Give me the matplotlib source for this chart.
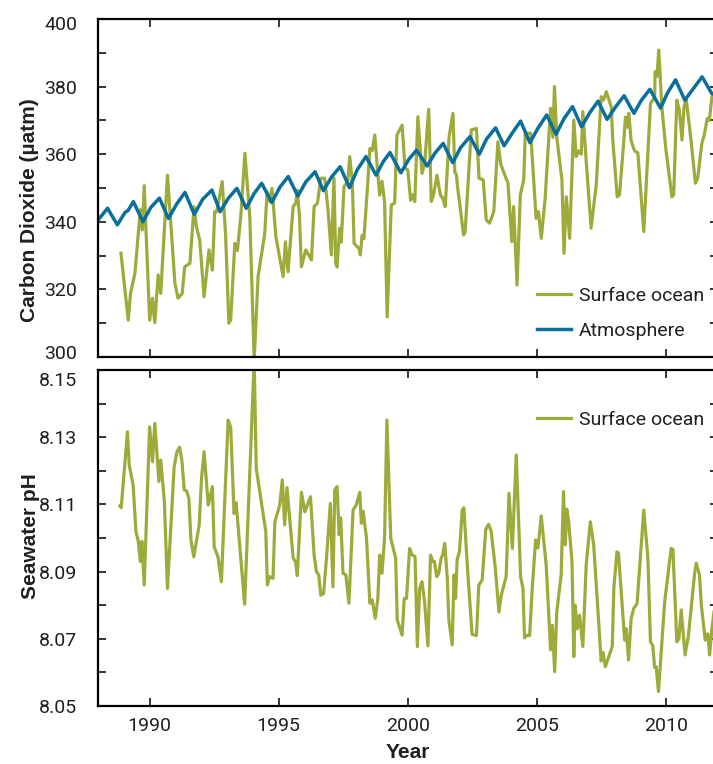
import matplotlib
matplotlib.use("Agg")
import matplotlib.pyplot as plt
import matplotlib.transforms as mtransforms
from matplotlib.ticker import MultipleLocator, FuncFormatter

# ---------------- data ----------------
ocean_co2_year = [1988.89, 1989.17, 1989.26, 1989.43, 1989.64, 1989.72, 1989.79, 1990.0, 1990.11, 1990.2,
                  1990.33, 1990.43, 1990.69, 1990.98, 1991.1, 1991.26, 1991.36, 1991.56, 1991.72, 1991.81,
                  1991.94, 1992.11, 1992.3, 1992.43, 1992.52, 1992.6, 1992.81, 1992.94, 1993.07, 1993.14,
                  1993.3, 1993.4, 1993.53, 1993.69, 1993.88, 1994.05, 1994.2, 1994.46, 1994.55, 1994.65,
                  1994.74, 1994.89, 1995.17, 1995.26, 1995.36, 1995.56, 1995.66, 1995.72, 1995.8, 1995.88,
                  1996.05, 1996.27, 1996.37, 1996.5, 1996.63, 1996.78, 1996.91, 1997.04, 1997.14, 1997.21,
                  1997.26, 1997.36, 1997.42, 1997.53, 1997.68, 1997.75, 1997.85, 1997.92, 1998.12, 1998.16,
                  1998.23, 1998.3, 1998.45, 1998.53, 1998.62, 1998.72, 1998.81, 1998.91, 1999.0, 1999.1,
                  1999.2, 1999.36, 1999.49, 1999.58, 1999.78, 1999.89, 2000.0, 2000.11, 2000.2, 2000.27,
                  2000.39, 2000.55, 2000.65, 2000.81, 2000.91, 2001.0, 2001.13, 2001.26, 2001.35, 2001.45,
                  2001.6, 2001.75, 2001.82, 2001.88, 2001.94, 2002.0, 2002.16, 2002.22, 2002.46, 2002.66,
                  2002.76, 2002.92, 2003.04, 2003.17, 2003.33, 2003.49, 2003.6, 2003.75, 2003.88, 2004.03,
                  2004.1, 2004.23, 2004.36, 2004.49, 2004.55, 2004.76, 2004.97, 2005.06, 2005.17, 2005.32,
                  2005.53, 2005.62, 2005.68, 2005.77, 2005.97, 2006.05, 2006.14, 2006.27, 2006.43, 2006.52,
                  2006.62, 2006.72, 2006.78, 2006.91, 2007.1, 2007.3, 2007.49, 2007.58, 2007.69, 2007.88,
                  2007.94, 2008.11, 2008.2, 2008.37, 2008.43, 2008.5, 2008.56, 2008.65, 2008.78, 2008.91,
                  2009.14, 2009.4, 2009.56, 2009.58, 2009.65, 2009.72, 2009.84, 2010.0, 2010.23, 2010.3,
                  2010.42, 2010.52, 2010.62, 2010.7, 2010.78, 2010.97, 2011.14, 2011.23, 2011.39, 2011.49,
                  2011.6, 2011.68, 2011.78, 2011.86]
ocean_co2 = [330.7, 310.9, 318.8, 324.8, 343.6, 337.6, 350.7, 310.9, 317.4, 310.2,
             324.3, 318.8, 353.8, 321.8, 317.4, 318.8, 326.7, 327.7, 344.5, 338.6,
             334.6, 317.8, 331.7, 325.7, 343.0, 343.0, 351.9, 336.6, 310.0, 311.0,
             333.6, 331.5, 341.5, 360.3, 341.5, 299.0, 323.8, 336.6, 348.9, 346.0,
             349.9, 335.6, 323.8, 334.1, 325.2, 344.5, 345.5, 349.4, 342.0, 326.7,
             331.7, 328.7, 344.5, 345.5, 352.9, 352.9, 343.5, 330.2, 352.9, 327.7,
             326.6, 338.1, 334.0, 350.4, 352.0, 359.3, 352.0, 333.6, 332.0, 330.2,
             336.0, 335.0, 351.5, 361.7, 361.0, 365.7, 357.0, 347.9, 352.0, 346.0,
             311.9, 345.0, 345.5, 365.7, 368.6, 356.0, 355.3, 346.4, 348.0, 346.0,
             371.1, 354.3, 357.0, 373.3, 346.0, 348.0, 353.8, 348.0, 347.0, 344.5,
             365.2, 372.1, 354.7, 354.0, 349.4, 346.0, 336.1, 337.0, 367.2, 367.6,
             352.9, 352.4, 340.5, 339.6, 343.0, 363.7, 357.0, 354.0, 351.4, 334.1,
             344.5, 321.3, 348.0, 352.4, 366.2, 366.2, 341.0, 343.0, 335.1, 347.0,
             373.6, 365.0, 380.0, 365.0, 352.4, 330.7, 347.4, 335.1, 370.1, 359.3,
             361.0, 360.0, 372.6, 358.0, 338.1, 351.0, 377.0, 376.0, 378.5, 374.0,
             364.2, 347.4, 348.0, 364.2, 371.0, 368.0, 372.1, 364.0, 361.0, 360.4,
             337.1, 375.0, 376.8, 384.4, 383.0, 390.8, 374.0, 361.2, 347.4, 348.0,
             376.0, 373.0, 364.2, 374.0, 376.5, 364.2, 351.4, 353.0, 363.2, 366.0,
             370.6, 370.0, 377.0, 378.0]

atmos_year = [1988.0, 1988.37, 1988.75, 1989.05, 1989.17, 1989.37, 1989.74, 1990.05, 1990.38, 1990.73,
              1991.05, 1991.37, 1991.73, 1992.05, 1992.41, 1992.73, 1993.05, 1993.38, 1993.74, 1994.05,
              1994.34, 1994.73, 1995.05, 1995.37, 1995.74, 1996.05, 1996.41, 1996.73, 1997.05, 1997.38,
              1997.74, 1998.05, 1998.38, 1998.77, 1999.05, 1999.31, 1999.73, 2000.05, 2000.34, 2000.75,
              2001.05, 2001.37, 2001.74, 2002.05, 2002.41, 2002.77, 2003.05, 2003.40, 2003.73, 2004.05,
              2004.37, 2004.73, 2005.05, 2005.38, 2005.74, 2006.05, 2006.38, 2006.73, 2007.05, 2007.37,
              2007.72, 2008.05, 2008.38, 2008.76, 2009.05, 2009.38, 2009.79, 2010.05, 2010.37, 2010.73,
              2011.05, 2011.40, 2011.77, 2011.9]
atmos_co2 = [340.5, 344.0, 339.1, 342.8, 343.4, 346.0, 340.0, 344.3, 347.0, 341.0,
             345.3, 348.7, 342.2, 346.6, 349.4, 343.0, 347.0, 349.9, 344.0, 348.4,
             351.4, 345.7, 350.3, 353.4, 347.6, 351.8, 354.8, 349.2, 353.3, 356.3,
             350.1, 355.5, 359.3, 353.8, 357.8, 360.5, 354.5, 358.6, 361.2, 356.5,
             360.3, 363.2, 357.5, 362.0, 365.2, 360.0, 364.5, 367.8, 362.5, 366.3,
             369.8, 363.4, 367.8, 371.6, 365.9, 370.5, 374.1, 368.1, 372.3, 375.7,
             370.3, 374.0, 377.3, 372.1, 376.0, 379.2, 373.6, 378.0, 382.0, 376.0,
             379.3, 382.9, 378.0, 377.5]

ph_year = [1988.85, 1988.9, 1989.14, 1989.21, 1989.36, 1989.47, 1989.56, 1989.64, 1989.7, 1989.79,
           1990.0, 1990.11, 1990.2, 1990.36, 1990.43, 1990.57, 1990.69, 1990.95, 1991.06, 1991.16,
           1991.25, 1991.34, 1991.43, 1991.52, 1991.6, 1991.71, 1991.92, 1992.01, 1992.11, 1992.27,
           1992.35, 1992.43, 1992.5, 1992.65, 1992.78, 1993.04, 1993.14, 1993.27, 1993.35, 1993.68,
           1994.05, 1994.13, 1994.5, 1994.56, 1994.64, 1994.78, 1994.85, 1995.04, 1995.14, 1995.23,
           1995.32, 1995.56, 1995.65, 1995.72, 1995.88, 1996.01, 1996.23, 1996.37, 1996.46, 1996.55,
           1996.63, 1996.74, 1996.87, 1997.0, 1997.1, 1997.17, 1997.26, 1997.34, 1997.4, 1997.49,
           1997.6, 1997.72, 1997.88, 1998.0, 1998.14, 1998.2, 1998.27, 1998.4, 1998.53, 1998.62,
           1998.74, 1998.84, 1998.91, 1999.0, 1999.1, 1999.19, 1999.34, 1999.53, 1999.59, 1999.78,
           1999.86, 1999.95, 2000.07, 2000.16, 2000.28, 2000.37, 2000.46, 2000.55, 2000.65, 2000.78,
           2000.88, 2000.97, 2001.03, 2001.12, 2001.2, 2001.29, 2001.35, 2001.43, 2001.53, 2001.59,
           2001.72, 2001.79, 2001.85, 2001.91, 2002.0, 2002.11, 2002.17, 2002.32, 2002.49, 2002.66,
           2002.75, 2002.88, 2003.02, 2003.13, 2003.23, 2003.39, 2003.53, 2003.62, 2003.81, 2003.92,
           2004.05, 2004.2, 2004.37, 2004.46, 2004.52, 2004.61, 2004.72, 2004.82, 2004.95, 2005.04,
           2005.17, 2005.36, 2005.53, 2005.6, 2005.69, 2005.77, 2005.94, 2006.03, 2006.1, 2006.16,
           2006.23, 2006.36, 2006.43, 2006.48, 2006.56, 2006.65, 2006.78, 2006.91, 2007.07, 2007.2,
           2007.35, 2007.49, 2007.56, 2007.65, 2007.92, 2007.98, 2008.1, 2008.16, 2008.4, 2008.46,
           2008.55, 2008.65, 2008.75, 2008.88, 2009.14, 2009.3, 2009.4, 2009.49, 2009.56, 2009.62,
           2009.71, 2009.95, 2010.2, 2010.27, 2010.42, 2010.5, 2010.59, 2010.74, 2010.87, 2011.11,
           2011.17, 2011.3, 2011.37, 2011.52, 2011.62, 2011.69, 2011.78, 2011.86]
ph_ocean = [8.1096, 8.109, 8.1316, 8.1217, 8.1158, 8.1019, 8.099, 8.093, 8.099, 8.086,
            8.1331, 8.1227, 8.1341, 8.1168, 8.1232, 8.111, 8.085, 8.1212, 8.1257, 8.127,
            8.123, 8.1143, 8.114, 8.1118, 8.0994, 8.0944, 8.1039, 8.1178, 8.1257, 8.1098,
            8.1125, 8.1153, 8.0974, 8.0943, 8.087, 8.1351, 8.133, 8.1073, 8.1105, 8.0803,
            8.153, 8.1207, 8.1019, 8.086, 8.0885, 8.088, 8.1048, 8.1098, 8.1173, 8.1039,
            8.115, 8.094, 8.093, 8.0888, 8.1136, 8.1078, 8.1123, 8.0949, 8.090, 8.089,
            8.083, 8.0835, 8.096, 8.1103, 8.0855, 8.1143, 8.1153, 8.101, 8.106, 8.0895,
            8.089, 8.0806, 8.1083, 8.1098, 8.1136, 8.1044, 8.108, 8.100, 8.0806, 8.0816,
            8.0761, 8.082, 8.0949, 8.0895, 8.100, 8.1351, 8.0999, 8.094, 8.0756, 8.0711,
            8.082, 8.082, 8.0969, 8.095, 8.0945, 8.0677, 8.085, 8.087, 8.081, 8.0679,
            8.0949, 8.093, 8.093, 8.0885, 8.0895, 8.094, 8.095, 8.0984, 8.088, 8.0755,
            8.0682, 8.089, 8.082, 8.0935, 8.096, 8.1083, 8.109, 8.090, 8.0713, 8.071,
            8.086, 8.0875, 8.1026, 8.1041, 8.102, 8.091, 8.078, 8.083, 8.0885, 8.1133,
            8.0969, 8.1247, 8.0885, 8.085, 8.0703, 8.071, 8.071, 8.085, 8.0994, 8.097,
            8.1066, 8.092, 8.0667, 8.074, 8.0602, 8.078, 8.089, 8.1138, 8.098, 8.1086,
            8.105, 8.093, 8.0647, 8.080, 8.073, 8.077, 8.0677, 8.092, 8.1048, 8.098,
            8.080, 8.0634, 8.066, 8.0617, 8.0677, 8.085, 8.0959, 8.0955, 8.0696, 8.073,
            8.0637, 8.076, 8.079, 8.0805, 8.1083, 8.094, 8.0691, 8.068, 8.0615, 8.0617,
            8.0543, 8.081, 8.0969, 8.0966, 8.0691, 8.070, 8.0786, 8.0652, 8.071, 8.0895,
            8.0925, 8.089, 8.080, 8.0696, 8.0715, 8.0652, 8.073, 8.078]

year_ticks = [1990, 1995, 2000, 2005, 2010]
co2_labels = [300, 320, 340, 360, 380, 400]
ph_labels = [8.05, 8.07, 8.09, 8.11, 8.13, 8.15]

OLIVE = "#9eab3a"
BLUE = "#0b6f9b"
TXT = "#231f20"
TICKFONT = ["Roboto", "DejaVu Sans"]
BOLDFONT = ["Liberation Sans", "DejaVu Sans"]
FS = 14

W, H = 713, 764
fig = plt.figure(figsize=(W / 100, H / 100), dpi=100)

def frac(x0, y0, x1, y1):
    return [x0 / W, 1 - y1 / H, (x1 - x0) / W, (y1 - y0) / H]

ax1 = fig.add_axes(frac(98, 19, 717.6, 357))
ax2 = fig.add_axes(frac(98, 370, 717.6, 706))

l1, = ax1.plot(ocean_co2_year, ocean_co2, color=OLIVE, lw=2.3, solid_joinstyle="round", label="Surface ocean")
l2, = ax1.plot(atmos_year, atmos_co2, color=BLUE, lw=2.5, solid_joinstyle="round", label="Atmosphere")
l3, = ax2.plot(ph_year, ph_ocean, color=OLIVE, lw=2.3, solid_joinstyle="round", label="Surface ocean")

ax1.set_xlim(1988, 2012)
ax2.set_xlim(1988, 2012)
ax1.set_ylim(300, 400)
ax2.set_ylim(8.05, 8.15)

for ax in (ax1, ax2):
    for s in ax.spines.values():
        s.set_linewidth(1.6)
        s.set_color("black")
    ax.set_xticks(year_ticks)
    ax.tick_params(axis="both", which="both", direction="in", top=True, right=True,
                   length=6, width=1.1, colors="black", labelcolor=TXT, labelsize=FS)

ax1.yaxis.set_major_locator(MultipleLocator(10))
ax1.yaxis.set_major_formatter(FuncFormatter(lambda v, p: f"{int(round(v))}" if int(round(v)) in co2_labels else ""))
ax2.yaxis.set_major_locator(MultipleLocator(0.01))
ax2.yaxis.set_major_formatter(FuncFormatter(lambda v, p: f"{v:.2f}" if any(abs(v - t) < 1e-6 for t in ph_labels) else ""))
ax1.tick_params(axis="x", labelbottom=False)
ax1.tick_params(axis="y", pad=15)
ax2.tick_params(axis="y", pad=15)
ax2.tick_params(axis="x", pad=8)

for ax in (ax1, ax2):
    for lab in ax.get_xticklabels() + ax.get_yticklabels():
        lab.set_family(TICKFONT)

fig.canvas.draw()
# end labels sit just inside the panel edges, as in the reference
def shift(label, dy_px):
    label.set_transform(label.get_transform() + mtransforms.Affine2D().translate(0, dy_px))

for lab in ax1.get_yticklabels():
    if lab.get_text() == "400":
        shift(lab, -4)
    elif lab.get_text() == "300":
        shift(lab, 5)
for lab in ax2.get_yticklabels():
    if lab.get_text() == "8.15":
        shift(lab, -9)

fig.text(30 / W, 1 - 210 / H, "Carbon Dioxide (µatm)", rotation=90, ha="center", va="center",
         fontsize=15, fontweight="bold", family=BOLDFONT, color=TXT)
fig.text(30 / W, 1 - 536 / H, "Seawater pH", rotation=90, ha="center", va="center",
         fontsize=15, fontweight="bold", family=BOLDFONT, color=TXT)
fig.text(408 / W, 1 - 753 / H, "Year", ha="center", va="center",
         fontsize=15, fontweight="bold", family=BOLDFONT, color=TXT)

leg1 = ax1.legend(handles=[l1, l2], loc="upper left", frameon=False,
                  bbox_to_anchor=((537 - 98) / 619.6, (357 - 287) / 338),
                  borderpad=0, borderaxespad=0,
                  handlelength=1.75, handletextpad=0.4, labelspacing=0.85,
                  prop={"family": TICKFONT, "size": FS})
leg2 = ax2.legend(handles=[l3], loc="upper left", frameon=False,
                  bbox_to_anchor=((537 - 98) / 619.6, (706 - 411) / 336),
                  borderpad=0, borderaxespad=0,
                  handlelength=1.75, handletextpad=0.4,
                  prop={"family": TICKFONT, "size": FS})
for lg in (leg1, leg2):
    for t in lg.get_texts():
        t.set_color(TXT)

fig.savefig("out.png", dpi=100)
